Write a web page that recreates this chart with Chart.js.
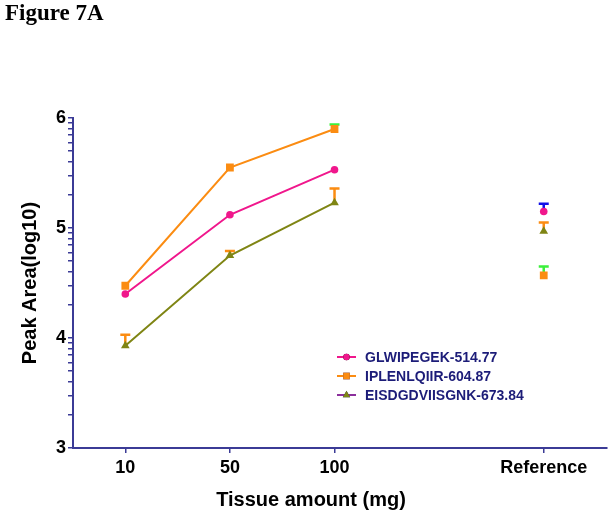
<!DOCTYPE html>
<html>
<head>
<meta charset="utf-8">
<script src="https://cdn.jsdelivr.net/npm/chart.js@4.4.0/dist/chart.umd.min.js"></script>
<style>
html, body { margin: 0; padding: 0; background: #fff; }
#wrap { width: 612px; height: 520px; position: relative; }
</style>
</head>
<body>
<div id="wrap"><canvas id="fig"></canvas></div>
<script>
// data
const categories = ['10', '50', '100', 'Reference'];
const xPositions = [1, 2, 3, 5];
const seriesNames = ['GLWIPEGEK-514.77', 'IPLENLQIIR-604.87', 'EISDGDVIISGNK-673.84'];
const glwMeans = [4.40, 5.12, 5.53, 5.15];
const glwErr = [0, 0, 0, 0.07];
const iplMeans = [4.475, 5.55, 5.90, 4.57];
const iplErr = [0, 0, 0.04, 0.08];
const eisMeans = [3.93, 4.75, 5.23, 4.97];
const eisErr = [0.10, 0.04, 0.13, 0.08];
const yMajorTicks = [3, 4, 5, 6];

const axisColor = '#3b3b96';
const sans = '"Liberation Sans", Arial, sans-serif';

// log10 minor ticks between the decades
const yTicks = [];
yMajorTicks.forEach(m => {
    yTicks.push(m);
    if (m < 6) {
        for (let k = 2; k <= 9; k++) yTicks.push(m + Math.log10(k));
    }
});

function toPoints(means) {
    return means.map((v, i) => ({ x: xPositions[i], y: v }));
}

// no line from 100 to the Reference point
const noLastSegment = { borderColor: c => c.p1DataIndex === 3 ? 'rgba(0,0,0,0)' : undefined };

const datasets = [
    {
        label: seriesNames[0], data: toPoints(glwMeans), errors: glwErr, errorColor: '#1010e8',
        borderColor: '#f0178c', backgroundColor: '#f0178c', pointStyle: 'circle', pointRadius: 3.8,
        legendLine: '#f0178c'
    },
    {
        label: seriesNames[1], data: toPoints(iplMeans), errors: iplErr, errorColor: '#3cf03c',
        borderColor: '#fb8c12', backgroundColor: '#fb8c12', pointStyle: 'rect', pointRadius: 5.5,
        legendLine: '#fb8c12'
    },
    {
        label: seriesNames[2], data: toPoints(eisMeans), errors: eisErr, errorColor: '#fb8c12',
        borderColor: '#7f8514', backgroundColor: '#7f8514', pointStyle: 'triangle', pointRadius: 5,
        legendLine: '#8c2f9c'
    }
];
datasets.forEach(d => {
    d.borderWidth = 2;
    d.pointBorderWidth = 0;
    d.segment = noLastSegment;
});

const errorBars = {
    id: 'errorBars',
    beforeDatasetsDraw(chart) {
        const ctx = chart.ctx;
        const xs = chart.scales.x, ys = chart.scales.y;
        chart.data.datasets.forEach(ds => {
            ds.errors.forEach((e, j) => {
                if (!e) return;
                const px = xs.getPixelForValue(ds.data[j].x);
                const y0 = ys.getPixelForValue(ds.data[j].y);
                const y1 = ys.getPixelForValue(ds.data[j].y + e);
                ctx.save();
                ctx.strokeStyle = ds.errorColor;
                ctx.lineWidth = 2.5;
                ctx.beginPath();
                ctx.moveTo(px, y0);
                ctx.lineTo(px, y1);
                ctx.moveTo(px - 5, y1);
                ctx.lineTo(px + 5, y1);
                ctx.stroke();
                ctx.restore();
            });
        });
    }
};

const texts = {
    id: 'texts',
    afterDraw(chart) {
        const ctx = chart.ctx;
        const area = chart.chartArea;
        ctx.save();
        ctx.fillStyle = '#000';
        ctx.textBaseline = 'alphabetic';
        ctx.textAlign = 'left';
        ctx.font = 'bold 23px "Liberation Serif", "Times New Roman", serif';
        ctx.fillText('Figure 7A', 5, 20);

        ctx.textAlign = 'center';
        ctx.textBaseline = 'middle';
        ctx.font = 'bold 20px ' + sans;
        ctx.fillText('Tissue amount (mg)', 311, 500);
        ctx.translate(30, (area.top + area.bottom) / 2);
        ctx.rotate(-Math.PI / 2);
        ctx.fillText('Peak Area(log10)', 0, 0);
        ctx.restore();

        // legend inside the plot
        ctx.save();
        ctx.font = 'bold 14px ' + sans;
        ctx.textBaseline = 'middle';
        ctx.textAlign = 'left';
        chart.data.datasets.forEach((ds, i) => {
            const y = 357 + i * 19;
            ctx.strokeStyle = ds.legendLine;
            ctx.lineWidth = 2;
            ctx.beginPath();
            ctx.moveTo(337, y);
            ctx.lineTo(356, y);
            ctx.stroke();
            Chart.helpers.drawPoint(ctx, {
                pointStyle: ds.pointStyle, radius: ds.pointRadius * 0.85, borderWidth: 0
            }, 346.5, y);
            ctx.fillStyle = ds.backgroundColor;
            ctx.fill();
            ctx.fillStyle = '#1c1c78';
            ctx.fillText(ds.label, 365, y + 1);
        });
        ctx.restore();
    }
};

new Chart(document.getElementById('fig'), {
    type: 'line',
    data: { datasets: datasets },
    options: {
        responsive: true,
        maintainAspectRatio: false,
        animation: false,
        layout: { padding: { top: 118, right: 4, left: 0, bottom: 0 } },
        plugins: { legend: { display: false }, tooltip: { enabled: false } },
        scales: {
            x: {
                type: 'linear',
                min: 0.5,
                max: 5.6,
                afterFit: s => { s.height = 72; },
                afterBuildTicks: s => { s.ticks = xPositions.map(v => ({ value: v })); },
                ticks: {
                    autoSkip: false,
                    maxRotation: 0,
                    padding: 4,
                    color: '#000',
                    font: { family: sans, size: 18, weight: 'bold' },
                    callback: v => categories[xPositions.indexOf(v)]
                },
                grid: { drawOnChartArea: false, tickLength: 5, color: axisColor, lineWidth: 1.5 },
                border: { color: axisColor, width: 2 }
            },
            y: {
                min: 3,
                max: 6,
                afterFit: s => { s.width = 73; },
                afterBuildTicks: s => { s.ticks = yTicks.map(v => ({ value: v })); },
                ticks: {
                    autoSkip: false,
                    padding: 2,
                    color: '#000',
                    font: { family: sans, size: 18, weight: 'bold' },
                    callback: v => yMajorTicks.includes(v) ? String(v) : ''
                },
                grid: { drawOnChartArea: false, tickLength: 5, color: axisColor, lineWidth: 1.5 },
                border: { color: axisColor, width: 2 }
            }
        }
    },
    plugins: [errorBars, texts]
});
</script>
</body>
</html>
